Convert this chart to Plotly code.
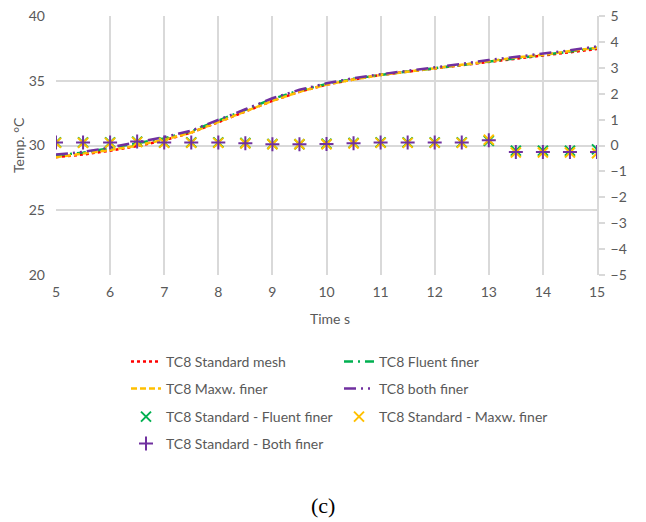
import plotly.graph_objects as go

time_s = [5, 5.5, 6, 6.5, 7, 7.5, 8, 8.5, 9, 9.5, 10, 10.5, 11, 11.5, 12, 12.5, 13, 13.5, 14, 14.5, 15]

tc8_standard = [29.1, 29.3, 29.6, 29.95, 30.4, 31.0, 31.8, 32.65, 33.45, 34.15, 34.7, 35.1, 35.45, 35.7, 35.95, 36.2, 36.45, 36.7, 36.95, 37.2, 37.45]
tc8_fluent = [29.25, 29.45, 29.8, 30.15, 30.55, 31.1, 31.9, 32.75, 33.6, 34.25, 34.75, 35.15, 35.45, 35.7, 35.95, 36.25, 36.5, 36.75, 37.0, 37.25, 37.55]
tc8_maxw = [29.1, 29.35, 29.65, 30.0, 30.45, 31.0, 31.8, 32.65, 33.45, 34.15, 34.7, 35.1, 35.45, 35.7, 35.95, 36.25, 36.5, 36.8, 37.0, 37.3, 37.55]
tc8_both = [29.3, 29.5, 29.85, 30.25, 30.65, 31.15, 31.95, 32.8, 33.65, 34.3, 34.8, 35.2, 35.5, 35.75, 36.05, 36.3, 36.6, 36.85, 37.05, 37.35, 37.65]

diff_std_fluent = [0.12, 0.12, 0.12, 0.15, 0.12, 0.12, 0.12, 0.1, 0.06, 0.05, 0.07, 0.1, 0.12, 0.12, 0.12, 0.12, 0.18, -0.2, -0.2, -0.2, -0.15]
diff_std_maxw = [0.1, 0.1, 0.1, 0.13, 0.1, 0.1, 0.1, 0.08, 0.05, 0.05, 0.05, 0.08, 0.1, 0.1, 0.1, 0.1, 0.22, -0.27, -0.27, -0.27, -0.3]
diff_std_both = [0.12, 0.12, 0.12, 0.15, 0.12, 0.12, 0.12, 0.09, 0.05, 0.05, 0.06, 0.09, 0.12, 0.12, 0.12, 0.12, 0.2, -0.25, -0.25, -0.25, -0.25]

x_ticks = list(range(5, 16))
y_ticks = [20, 25, 30, 35, 40]
y2_ticks = list(range(-5, 6))

FONT = "Lato"
GRAY = "#595959"
GRID = "#d9d9d9"
RED, GREEN, YELLOW, PURPLE = "#ff0000", "#00b050", "#ffc000", "#7030a0"

# The page shows the figure with an 8 px offset; place everything in page pixels.
OFF = 8
W, H = 646, 522
ML, MT = 56 - OFF, 16 - OFF
MR = W - (597 - OFF)
MB = H - (275 - OFF)
PW, PH = W - ML - MR, H - MT - MB


def px(xp):
    return (xp - OFF - ML) / PW


def py(yp):
    return (H - MB - (yp - OFF)) / PH


fig = go.Figure()

fig.add_trace(go.Scatter(x=time_s, y=tc8_standard, mode="lines", name="TC8 Standard mesh",
                         line=dict(color=RED, width=2.5, dash="dot"), legend="legend"))
fig.add_trace(go.Scatter(x=time_s, y=tc8_fluent, mode="lines", name="TC8 Fluent finer",
                         line=dict(color=GREEN, width=2.5, dash="9px,5px,2px,5px"), legend="legend"))
fig.add_trace(go.Scatter(x=time_s, y=tc8_maxw, mode="lines", name="TC8 Maxw. finer",
                         line=dict(color=YELLOW, width=2.5, dash="6px,3px"), legend="legend2"))
fig.add_trace(go.Scatter(x=time_s, y=tc8_both, mode="lines", name="TC8 both finer",
                         line=dict(color=PURPLE, width=2.5, dash="12px,5px,2px,5px,2px,5px"), legend="legend2"))

fig.add_trace(go.Scatter(x=time_s, y=diff_std_fluent, mode="markers", name="TC8 Standard - Fluent finer",
                         yaxis="y2", marker=dict(symbol="x-thin-open", size=10, color=GREEN,
                                                 line=dict(color=GREEN, width=2)),
                         legend="legend3"))
fig.add_trace(go.Scatter(x=time_s, y=diff_std_maxw, mode="markers", name="TC8 Standard - Maxw. finer",
                         yaxis="y2", marker=dict(symbol="x-thin-open", size=10, color=YELLOW,
                                                 line=dict(color=YELLOW, width=2)),
                         legend="legend3"))
fig.add_trace(go.Scatter(x=time_s, y=diff_std_both, mode="markers", name="TC8 Standard - Both finer",
                         yaxis="y2", marker=dict(symbol="cross-thin-open", size=10, color=PURPLE,
                                                 line=dict(color=PURPLE, width=2)),
                         legend="legend4"))

leg_common = dict(orientation="h", xanchor="left", yanchor="middle", x=px(126),
                  font=dict(family=FONT, size=14, color=GRAY), entrywidth=168,
                  bgcolor="rgba(0,0,0,0)", borderwidth=0)

fig.update_layout(
    width=W, height=H,
    margin=dict(l=ML, r=MR, t=MT, b=MB, autoexpand=False),
    paper_bgcolor="white", plot_bgcolor="white",
    font=dict(family=FONT, color=GRAY),
    xaxis=dict(range=[5, 15], tickvals=x_ticks, showgrid=True, gridcolor=GRID, gridwidth=1.5,
               zeroline=False, showline=False, ticks="", tickfont=dict(size=14, color=GRAY),
               ticklabelstandoff=7, ticklabeloverflow="allow"),
    yaxis=dict(range=[20, 40], tickvals=y_ticks, showgrid=True, gridcolor=GRID, gridwidth=1.5,
               zeroline=False, showline=False, ticks="", tickfont=dict(size=14, color=GRAY),
               ticklabelstandoff=10, ticklabeloverflow="allow"),
    yaxis2=dict(range=[-5, 5], tickvals=y2_ticks, overlaying="y", side="right", showgrid=False,
                zeroline=False, showline=True, linecolor=GRID, linewidth=1.5, ticks="outside",
                ticklen=6, tickcolor=GRID, tickwidth=1.5, tickfont=dict(size=14, color=GRAY),
                ticklabelstandoff=3, ticklabeloverflow="allow",
                title=dict(text="Temp. diff. K", standoff=31, font=dict(family=FONT, size=14, color=GRAY))),
    legend=dict(leg_common, y=py(362)),
    legend2=dict(leg_common, y=py(389)),
    legend3=dict(leg_common, y=py(417)),
    legend4=dict(leg_common, y=py(444)),
    showlegend=True,
)

fig.add_annotation(text="Temp. °C", x=px(18), y=py(145), xref="paper", yref="paper",
                   showarrow=False, textangle=-90, xanchor="center", yanchor="middle",
                   font=dict(family=FONT, size=14, color=GRAY))
fig.add_annotation(text="Time s", x=px(330), y=py(318), xref="paper", yref="paper",
                   showarrow=False, xanchor="center", yanchor="middle",
                   font=dict(family=FONT, size=14, color=GRAY))
fig.add_annotation(text="(c)", x=px(323), y=py(505), xref="paper", yref="paper",
                   showarrow=False, xanchor="center", yanchor="middle",
                   font=dict(family="Liberation Serif", size=22, color="#000000"))

fig.write_html("out.html")
